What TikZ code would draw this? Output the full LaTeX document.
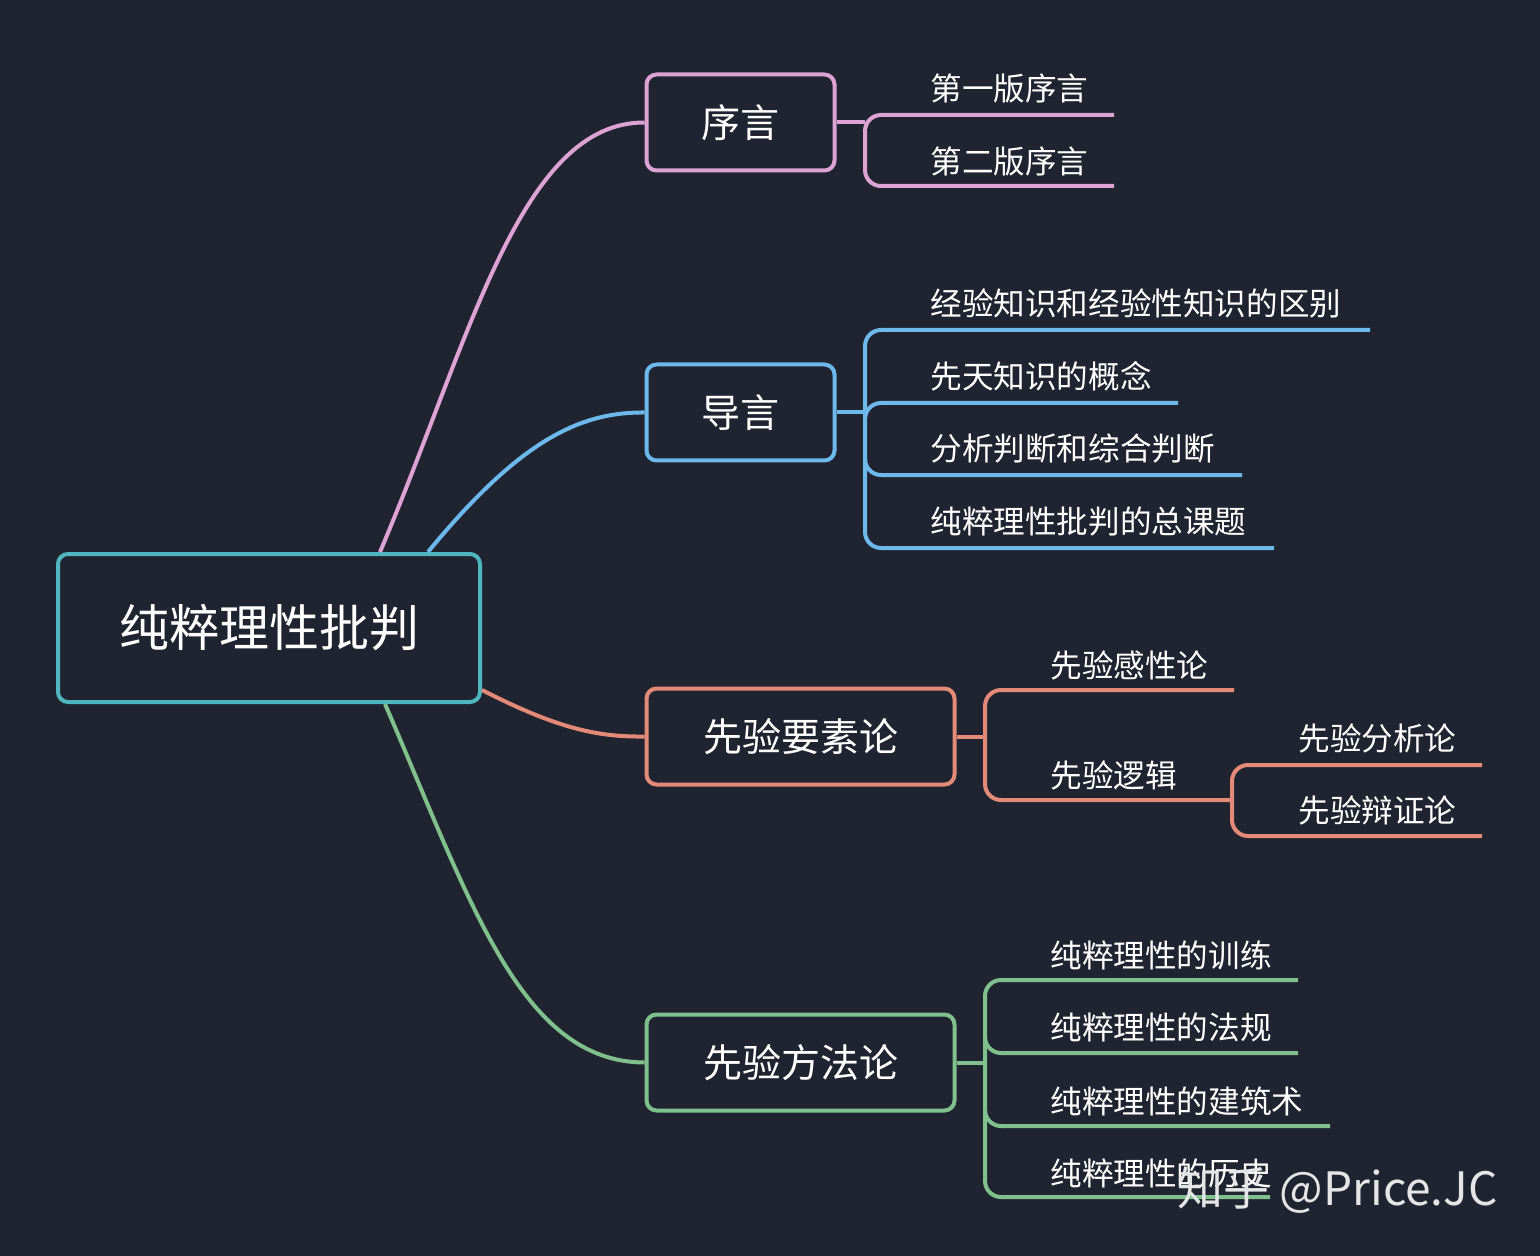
\documentclass[tikz,border=0pt]{standalone}
\usepackage{fontspec}
\setmainfont{Noto Sans CJK SC}
\definecolor{bg}{HTML}{1F2430}
\definecolor{cpink}{HTML}{DCA3D3}
\definecolor{cblue}{HTML}{6DB9EC}
\definecolor{csalm}{HTML}{E38B78}
\definecolor{cgreen}{HTML}{80C08D}
\definecolor{cteal}{HTML}{4DB6BE}
\tikzset{
  box/.style={draw, line width=2pt, rounded corners=5pt, fill=bg, text=white, font=\fontsize{19.5}{22}\selectfont},
  leaf/.style={anchor=south west, text=white, inner sep=0pt, font=\fontsize{15.8}{18}\selectfont},
  link/.style={line width=2pt, rounded corners=8pt},
}
\begin{document}
\begin{tikzpicture}[x=0.5pt,y=-0.5pt]
  \fill [bg] (0,0) rectangle (1540,1256);
  \useasboundingbox (0,0) rectangle (1540,1256);
  % main boxes
  \node [box, draw=cteal, minimum width=211pt, minimum height=74pt, font=\fontsize{25}{28}\selectfont] (root) at (269,628) {纯粹理性批判};
  \node [box, draw=cpink, minimum width=94pt, minimum height=48pt] (pref) at (740.5,122.5) {序言};
  \node [box, draw=cblue, minimum width=94pt, minimum height=48pt] (intro) at (740.5,412.5) {导言};
  \node [box, draw=csalm, minimum width=154pt, minimum height=48pt] (elem) at (800.5,736.5) {先验要素论};
  \node [box, draw=cgreen, minimum width=154pt, minimum height=48pt] (meth) at (800.5,1062.5) {先验方法论};
  % curves from root
  \draw [cpink, line width=2pt] (root.north -| 380,0) .. controls (470,340) and (520,122) .. (pref.west);
  \draw [cblue, line width=2pt] (root.north -| 428,0) .. controls (520,440) and (580,412) .. (intro.west);
  \draw [csalm, line width=2pt] (root.east |- 0,690) .. controls (560,730) and (600,737) .. (elem.west);
  \draw [cgreen, line width=2pt] (root.south -| 385,0) .. controls (470,900) and (520,1062) .. (meth.west);
  % preface
  \node [leaf] (p1) at (930,104) {第一版序言};
  \node [leaf] (p2) at (930,177) {第二版序言};
  \draw [cpink, line width=2pt] (pref.east) -- (865,122.5);
  \draw [cpink, link] (1114,115) -- (865,115) -- (865,186) -- (1114,186);
  % introduction
  \node [leaf] (i1) at (930,319) {经验知识和经验性知识的区别};
  \node [leaf] (i2) at (930,392) {先天知识的概念};
  \node [leaf] (i3) at (930,464) {分析判断和综合判断};
  \node [leaf] (i4) at (930,537) {纯粹理性批判的总课题};
  \draw [cblue, line width=2pt] (intro.east) -- (865,412.5);
  \draw [cblue, link] (1370,330) -- (865,330) -- (865,548) -- (1274,548);
  \draw [cblue, link] (865,420) -- (865,403) -- (1178,403);
  \draw [cblue, link] (865,460) -- (865,475) -- (1242,475);
  % elements
  \node [leaf] (e1) at (1050,681) {先验感性论};
  \node [leaf] (e2) at (1050,791) {先验逻辑};
  \node [leaf] (e3) at (1298,754) {先验分析论};
  \node [leaf] (e4) at (1298,826) {先验辩证论};
  \draw [csalm, line width=2pt] (elem.east) -- (985,736.5);
  \draw [csalm, link] (1234,690) -- (985,690) -- (985,800) -- (1232,800);
  \draw [csalm, link] (1482,765) -- (1232,765) -- (1232,836) -- (1482,836);
  % method
  \node [leaf] (m1) at (1050,970) {纯粹理性的训练};
  \node [leaf] (m2) at (1050,1042) {纯粹理性的法规};
  \node [leaf] (m3) at (1050,1116) {纯粹理性的建筑术};
  \node [leaf] (m4) at (1050,1188) {纯粹理性的历史};
  \draw [cgreen, line width=2pt] (meth.east) -- (985,1062.5);
  \draw [cgreen, link] (1298,980) -- (985,980) -- (985,1197) -- (1270,1197);
  \draw [cgreen, link] (985,1045) -- (985,1053) -- (1298,1053);
  \draw [cgreen, link] (985,1118) -- (985,1126) -- (1330,1126);
  % watermark
  \node [anchor=east, text=white!88!bg, inner sep=0pt, font=\fontsize{23}{26}\selectfont] (wm) at (1498,1190) {知乎 @Price.JC};
\end{tikzpicture}
\end{document}
